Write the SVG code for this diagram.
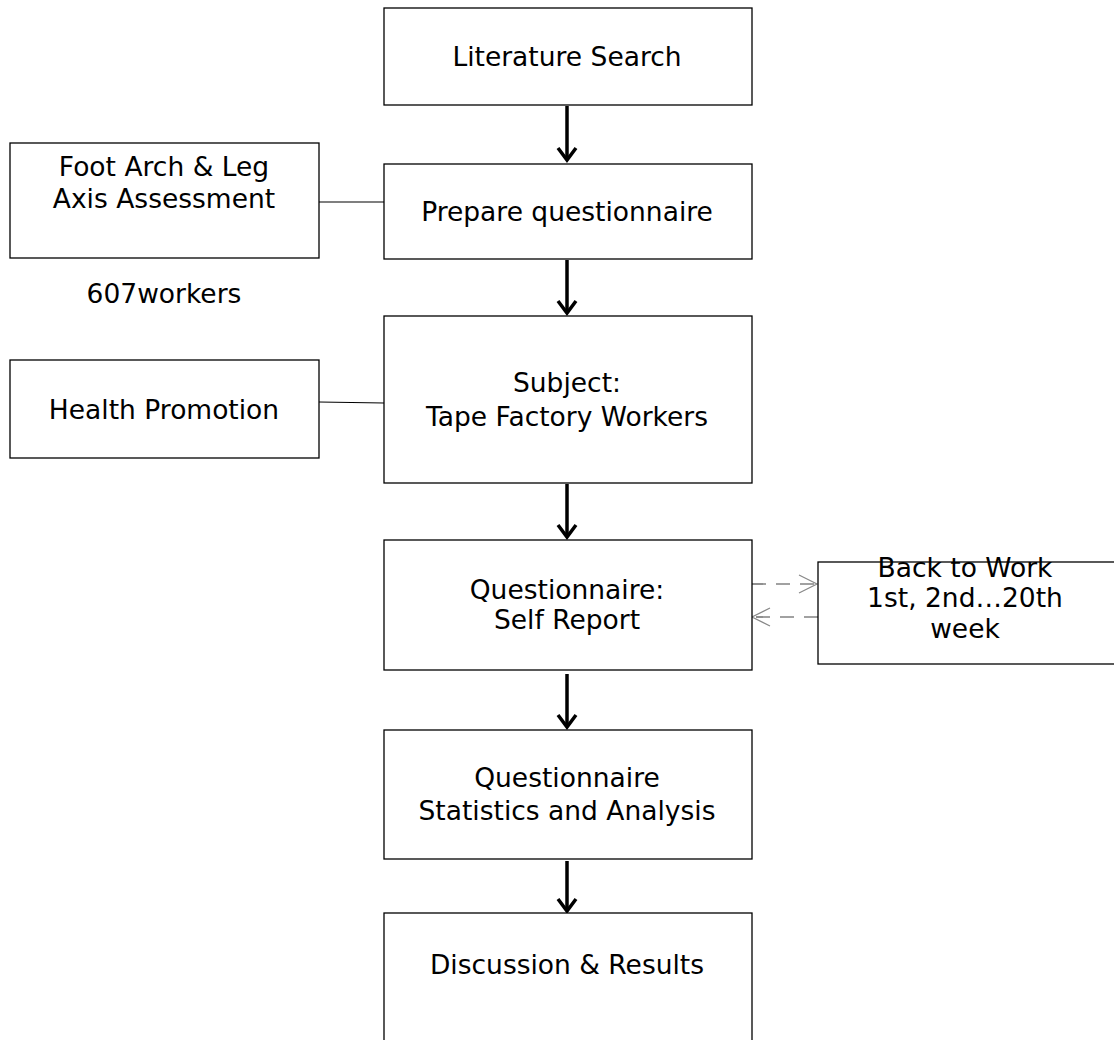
<svg xmlns="http://www.w3.org/2000/svg" width="1114" height="1040" viewBox="0 0 1114 1040">
<defs>
<style>
.box{fill:#fff;stroke:#000;stroke-width:1.3}
text{font-family:"DejaVu Sans",sans-serif;font-size:26.5px;fill:#000;text-anchor:middle}
.flow{stroke:#000;stroke-width:3.5;fill:none}
.head{stroke:#000;stroke-width:3.5;fill:none;stroke-linejoin:miter}
.link{stroke:#000;stroke-width:1.2;fill:none}
.dash{stroke:#444;stroke-width:1.2;fill:none;stroke-dasharray:14,10}
.dhead{stroke:#888;stroke-width:1.2;fill:none}
</style>
</defs>
<rect width="1114" height="1040" fill="#fff"/>
<g id="connectors">
<line class="flow" x1="567" y1="106" x2="567" y2="160"/>
<polyline class="head" points="558,148 567,160 576,148"/>
<line class="flow" x1="567" y1="260" x2="567" y2="313"/>
<polyline class="head" points="558,301 567,313 576,301"/>
<line class="flow" x1="567" y1="484" x2="567" y2="537"/>
<polyline class="head" points="558,525 567,537 576,525"/>
<line class="flow" x1="567" y1="674" x2="567" y2="727"/>
<polyline class="head" points="558,715 567,727 576,715"/>
<line class="flow" x1="567" y1="861" x2="567" y2="911"/>
<polyline class="head" points="558,899 567,911 576,899"/>
<line class="link" x1="319" y1="202" x2="384" y2="202"/>
<line class="link" x1="319" y1="402" x2="384" y2="403"/>
<line class="dash" x1="752" y1="584" x2="817" y2="584"/>
<polyline class="dhead" points="799,575 817,584 799,593"/>
<line class="dash" x1="818" y1="617" x2="753" y2="617"/>
<polyline class="dhead" points="770,608 752,617 770,626"/>
</g>
<g id="n1"><rect class="box" x="384" y="8" width="368" height="97"/><text x="567" y="66">Literature Search</text></g>
<g id="n2"><rect class="box" x="384" y="164" width="368" height="95"/><text x="567" y="221">Prepare questionnaire</text></g>
<g id="n3"><rect class="box" x="384" y="316" width="368" height="167"/><text x="567" y="392">Subject:</text><text x="567" y="426">Tape Factory Workers</text></g>
<g id="n4"><rect class="box" x="384" y="540" width="368" height="130"/><text x="567" y="599">Questionnaire:</text><text x="567" y="629">Self Report</text></g>
<g id="n5"><rect class="box" x="384" y="730" width="368" height="129"/><text x="567" y="787">Questionnaire</text><text x="567" y="820">Statistics and Analysis</text></g>
<g id="n6"><rect class="box" x="384" y="913" width="368" height="140"/><text x="567" y="974">Discussion &amp; Results</text></g>
<g id="n7"><rect class="box" x="10" y="143" width="309" height="115"/><text x="164" y="176">Foot Arch &amp; Leg</text><text x="164" y="208">Axis Assessment</text></g>
<g id="n8"><text x="164" y="303">607workers</text></g>
<g id="n9"><rect class="box" x="10" y="360" width="309" height="98"/><text x="164" y="419">Health Promotion</text></g>
<g id="n10"><rect class="box" x="818" y="562" width="300" height="102"/><text x="965" y="577">Back to Work</text><text x="965" y="607">1st, 2nd…20th</text><text x="965" y="638">week</text></g>
</svg>
